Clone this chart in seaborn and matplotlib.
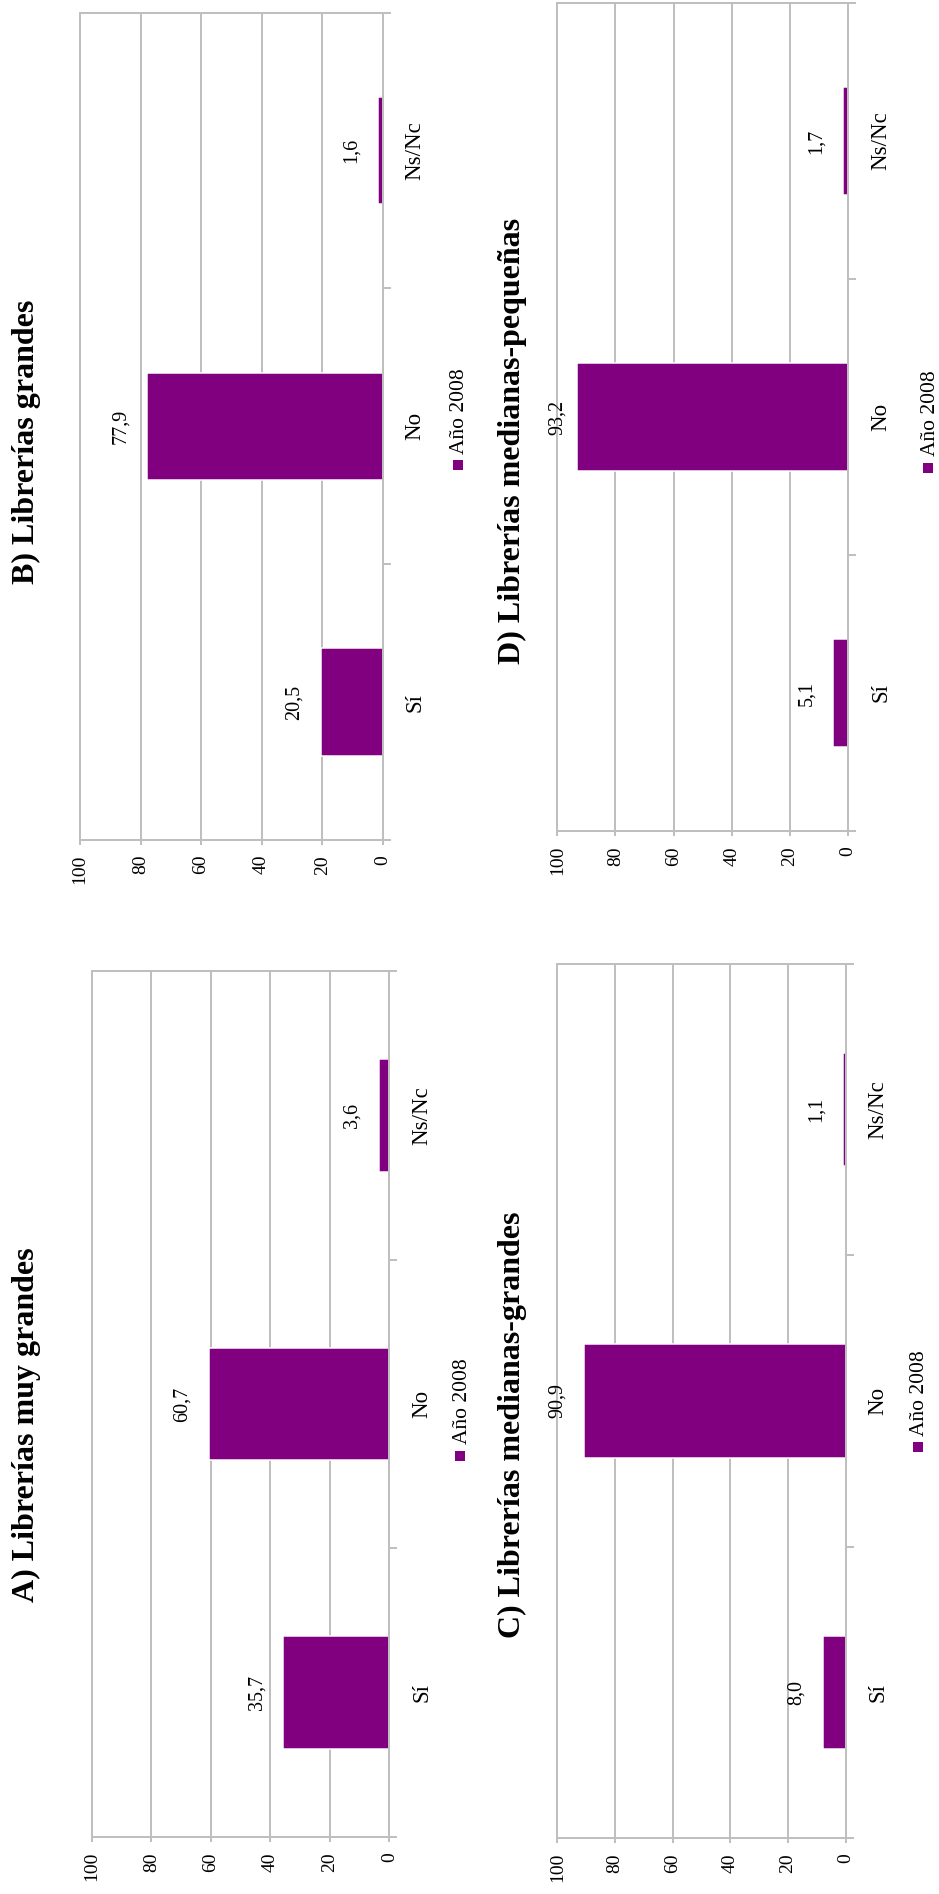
import matplotlib
matplotlib.use("Agg")
import matplotlib.pyplot as plt
from matplotlib.patches import Rectangle
import seaborn as sns
import pandas as pd

# --- data -------------------------------------------------------------
categorias = ["Sí", "No", "Ns/Nc"]
serie = "Año 2008"
valores_a = [35.7, 60.7, 3.6]
valores_b = [20.5, 77.9, 1.6]
valores_c = [8.0, 90.9, 1.1]
valores_d = [5.1, 93.2, 1.7]
titulo_a = "A) Librerías muy grandes"
titulo_b = "B) Librerías grandes"
titulo_c = "C) Librerías medianas-grandes"
titulo_d = "D) Librerías medianas-pequeñas"
ticks_valor = [0, 20, 40, 60, 80, 100]

# --- styling ----------------------------------------------------------
W, H = 939, 1894
DPI = 100
PT = 72 / DPI          # points per pixel
MORADO = "#800080"
GRIS = "#bfbfbf"

plt.rcParams["font.family"] = ["Liberation Serif", "DejaVu Serif"]
plt.rcParams["text.color"] = "black"


def fx(px):
    return px / W


def fy(py):
    return 1 - py / H


# page is laid out sideways: each panel is a horizontal bar chart with
# the value axis reversed and all text turned 90 degrees
# (axes box x0, y0, x1, y1), (title baseline x, title centre y), legend key centre
paneles = [
    (titulo_b, valores_b, (80, 12.7, 382.7, 840), (34, 441.5), (457.5, 465.5)),
    (titulo_a, valores_a, (92, 971, 389.3, 1837), (34, 1425), (460, 1456)),
    (titulo_d, valores_d, (557.3, 3, 848, 831), (520, 440.5), (928, 468)),
    (titulo_c, valores_c, (557.3, 964, 845.7, 1838), (520, 1425), (917.5, 1447.5)),
]

fig = plt.figure(figsize=(W / DPI, H / DPI), dpi=DPI)
fig.patch.set_facecolor("white")

orden = categorias[::-1]   # Ns/Nc on top, Sí at the bottom

for titulo, valores, (x0, y0, x1, y1), (tbx, tcy), (mx, my) in paneles:
    ax = fig.add_axes([fx(x0), fy(y1), (x1 - x0) / W, (y1 - y0) / H])
    df = pd.DataFrame({"respuesta": categorias, "valor": valores})
    sns.barplot(data=df, x="valor", y="respuesta", order=orden,
                color=MORADO, saturation=1, width=0.39,
                edgecolor="white", linewidth=1.5 * PT, ax=ax)

    ax.set_xlim(100, 0)
    ax.set_ylim(2.5, -0.5)
    ax.set_xlabel("")
    ax.set_ylabel("")
    ax.set_facecolor("white")

    # value axis (bottom)
    ax.set_xticks(ticks_valor)
    ax.set_xticklabels([str(t) for t in ticks_valor])
    ax.grid(axis="x", color=GRIS, linewidth=2 * PT)
    ax.grid(axis="y", visible=False)
    ax.set_axisbelow(True)
    for s in ax.spines.values():
        s.set_color(GRIS)
        s.set_linewidth(2 * PT)
    ax.tick_params(axis="x", direction="out", length=5 * PT, width=2 * PT,
                   color=GRIS, pad=10 * PT, labelsize=14, labelcolor="black")

    # category axis (right)
    ax.yaxis.tick_right()
    ax.set_yticks(range(len(orden)))
    ax.set_yticklabels(orden)
    ax.set_yticks([-0.5, 0.5, 1.5, 2.5], minor=True)
    ax.tick_params(axis="y", which="major", length=0, pad=38 * PT,
                   labelsize=16.5, labelcolor="black",
                   right=True, left=False, labelright=True, labelleft=False)
    ax.tick_params(axis="y", which="minor", direction="out", length=7.5 * PT,
                   width=2 * PT, color=GRIS, right=True, left=False)

    for lab in ax.get_xticklabels():
        lab.set_rotation(90)
        lab.set_rotation_mode("anchor")
        lab.set_ha("right")
        lab.set_va("center")
    for lab in ax.get_yticklabels():
        lab.set_rotation(90)
        lab.set_rotation_mode("anchor")
        lab.set_ha("center")
        lab.set_va("baseline")

    # value labels just beyond each bar end
    ppu = (x1 - x0) / 100.0
    por_cat = dict(zip(categorias, valores))
    for i, cat in enumerate(orden):
        v = por_cat[cat]
        xl = min(v + 22 / ppu, 100 - 5 / ppu)
        ax.text(xl, i, f"{v:.1f}".replace(".", ","), rotation=90,
                rotation_mode="anchor", ha="center", va="baseline",
                fontsize=14.5, color="black", clip_on=False)

    # panel title
    fig.text(fx(tbx), fy(tcy), titulo, rotation=90, rotation_mode="anchor",
             ha="center", va="baseline", fontsize=23, fontweight="bold")

    # legend key
    fig.add_artist(Rectangle((fx(mx - 5), fy(my + 5)), 10 / W, 10 / H,
                             transform=fig.transFigure, facecolor=MORADO,
                             edgecolor="none"))
    fig.text(fx(mx + 7), fy(my - 12), serie, rotation=90,
             rotation_mode="anchor", ha="left", va="baseline", fontsize=15.5)

fig.savefig("out.png", dpi=DPI, facecolor="white")
